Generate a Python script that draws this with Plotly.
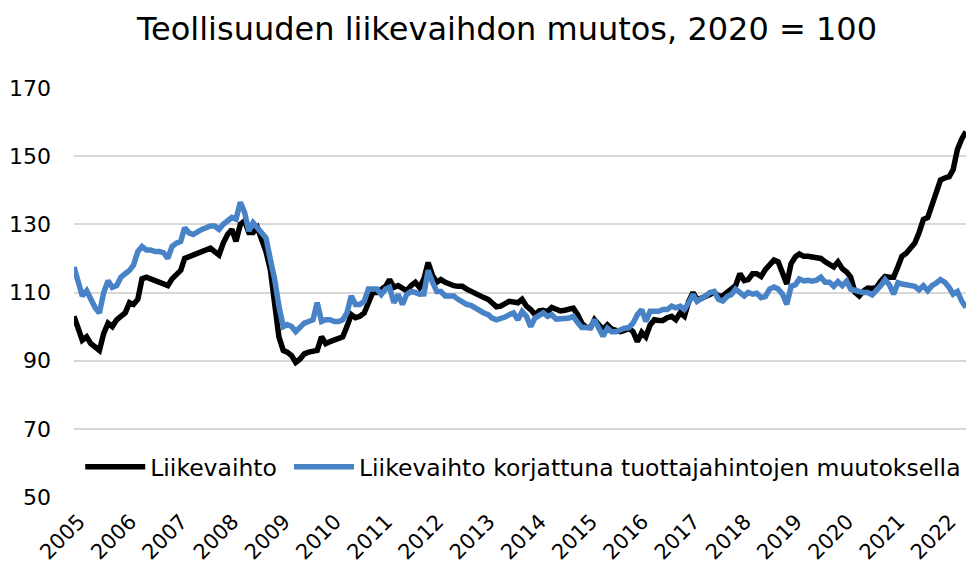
import plotly.graph_objects as go
import pandas as pd

# Monthly values, Jan 2005 - Jun 2022 (2020 = 100)
liikevaihto = [
    # 2005
    103, 99, 96, 97, 95, 94, 93, 98, 101, 100, 102, 103,
    # 2006
    104, 107, 106.5, 108, 114, 114.5, 114, 113.5, 113, 112.5, 112, 114,
    # 2007
    115.5, 116.5, 120, 120.5, 121, 121.5, 122, 122.5, 123, 122, 121, 124.5,
    # 2008
    127, 128.5, 125, 130, 131, 127.6, 127.6, 129, 125.5, 122, 116.7, 106,
    # 2009
    97, 93, 92.5, 91.5, 89.5, 90.5, 92, 92.5, 92.7, 93, 97, 95,
    # 2010
    95.6, 96, 96.5, 97, 100, 103.5, 102.6, 103, 104, 107, 110, 110,
    # 2011
    111, 111.8, 113.8, 111.5, 112, 111, 110.5, 112, 113, 111.5, 114, 118.8,
    # 2012
    115, 113, 113.8, 113, 112.3, 112, 111.8, 111.8, 111, 110.3, 109.6, 109,
    # 2013
    108.5, 108, 106.8, 105.8, 106, 106.5, 107.4, 107.2, 107, 108, 106, 105,
    # 2014
    103.5, 104.6, 104.8, 104.4, 105.6, 105.1, 104.6, 104.8, 105.3, 105.4, 103.5, 101,
    # 2015
    99.8, 99.7, 102, 100.4, 99.1, 100.5, 99.3, 98.9, 98.5, 98.9, 99.5, 98.5,
    # 2016
    95.6, 98.3, 97, 100.5, 102, 101.8, 101.8, 102.6, 103, 102, 104, 103,
    # 2017
    107.4, 110, 108, 108.3, 109, 109.4, 110, 109, 109, 110, 111, 112,
    # 2018
    115.5, 113.5, 113.8, 115.5, 115.5, 114.7, 116.7, 118.2, 119.5, 119, 116, 112.5,
    # 2019
    118.5, 120.5, 121.3, 120.6, 120.6, 120.4, 120.6, 120, 119, 118.2, 117.5, 119,
    # 2020
    117, 116, 114.5, 110, 109, 110.5, 111.3, 111.2, 111.5, 113.3, 114.7, 114.5,
    # 2021
    114.5, 117.6, 120.6, 121.5, 123, 124.5, 127.5, 131.4, 132, 135.5, 139, 143,
    # 2022
    143.6, 144, 146, 152, 155, 157.2,
]

korjattu = [
    # 2005
    117.5, 113, 109, 110.5, 108, 105.5, 104, 110, 113.5, 111.5, 112, 114.5,
    # 2006
    115.5, 116.5, 118, 122, 123.5, 122.5, 122.5, 122, 122, 121.7, 120, 123.5,
    # 2007
    124.5, 125, 129, 127.5, 127, 128, 128.5, 129, 129.5, 129.5, 128.5, 130,
    # 2008
    131, 132, 131.5, 136.5, 133.5, 128, 130.5, 129, 128, 126, 119.7, 114,
    # 2009
    106, 100, 100.6, 100, 98.5, 100, 101, 101.5, 102, 107, 101.5, 102,
    # 2010
    102, 101.5, 101.5, 102, 104, 109, 106.5, 106.5, 107.4, 111, 111, 111,
    # 2011
    109.4, 111, 111.5, 107, 109.4, 106.5, 109.4, 110.3, 110, 109.5, 109.6, 116.5,
    # 2012
    113, 110.3, 110.3, 109, 109, 109, 108, 107, 106.5, 106.2, 105.5, 104.4,
    # 2013
    104, 103.5, 102.5, 102, 102.3, 102.8, 103.5, 104, 102, 104.4, 103, 100,
    # 2014
    102.5, 103.2, 104, 103, 103.5, 102.2, 102.5, 102.4, 102.5, 103, 101.2, 99.7,
    # 2015
    99.7, 99.7, 102, 99.5, 97.2, 99.5, 98.5, 98.5, 99.1, 99.5, 99.7, 101,
    # 2016
    103.5, 105, 101.5, 104.5, 104.5, 104.5, 105, 105, 106, 105.5, 106, 105,
    # 2017
    107, 109.4, 107.4, 108, 109, 110, 110.3, 108, 107.5, 108.8, 109.4, 111,
    # 2018
    110, 109, 110, 109.5, 109.8, 108.5, 108.8, 111, 111.6, 111, 109.5, 106.5,
    # 2019
    111.8, 112.3, 114, 113.4, 113.6, 113.3, 113.6, 114.5, 113, 113, 111.8, 113.2,
    # 2020
    112, 113.3, 111, 110.8, 110.3, 110, 110, 109.3, 110.5, 112, 113.8, 112.3,
    # 2021
    109.5, 112.9, 112.5, 112.3, 112.3, 111.8, 110.8, 112, 110.5, 112, 112.8, 113.8,
    # 2022
    113, 111.5, 109.5, 110.3, 107.5, 105.6,
]

months = pd.date_range("2005-01-01", periods=len(liikevaihto), freq="MS")
year_ticks = [str(y) for y in range(2005, 2023)]
y_ticks = [50, 70, 90, 110, 130, 150, 170]

FONT = "DejaVu Sans"
W, H = 968, 570
LEG_Y = (497 - 467) / 409

fig = go.Figure()
fig.add_trace(go.Scatter(
    x=months, y=liikevaihto, mode="lines", name="Liikevaihto",
    line=dict(color="#000000", width=5.5), legend="legend",
))
fig.add_trace(go.Scatter(
    x=months, y=korjattu, mode="lines",
    name="Liikevaihto korjattuna tuottajahintojen muutoksella",
    line=dict(color="#4783C6", width=5.5), legend="legend2",
))

leg_common = dict(
    orientation="h", yanchor="middle",
    bgcolor="rgba(255,255,255,0)", font=dict(size=23.5, family=FONT),
    itemwidth=60,
)

fig.update_layout(
    width=W, height=H,
    paper_bgcolor="white", plot_bgcolor="white",
    margin=dict(l=74, r=2, t=88, b=73),
    font=dict(family=FONT, color="#000000", size=21),
    title=dict(
        text="Teollisuuden liikevaihdon muutos, 2020 = 100",
        x=507 / W, xanchor="center", y=1 - 29 / H, yanchor="middle",
        font=dict(family=FONT, size=32, color="#000000"),
    ),
    showlegend=True,
    legend=dict(x=0.007, xanchor="left", y=LEG_Y, **leg_common),
    legend2=dict(x=1.0, xanchor="right", y=LEG_Y, **leg_common),
    xaxis=dict(
        range=[months[0], months[-1]],
        tickvals=[pd.Timestamp(f"{y}-01-01") for y in year_ticks],
        ticktext=year_ticks,
        tickangle=-45,
        showgrid=False, zeroline=False, showline=False,
        ticks="", tickfont=dict(size=21), automargin=False,
        ticklabelshift=5, ticklabelstandoff=7,
    ),
    yaxis=dict(
        range=[50, 170], tickvals=y_ticks,
        showgrid=True, gridcolor="#D9D9D9", gridwidth=2,
        zeroline=False, showline=False, ticks="",
        tickfont=dict(size=22), ticklabelstandoff=22, automargin=False,
    ),
)

fig.write_html(
    "out.html",
    config={"displayModeBar": False},
    post_script="document.body.style.margin='0';",
)
